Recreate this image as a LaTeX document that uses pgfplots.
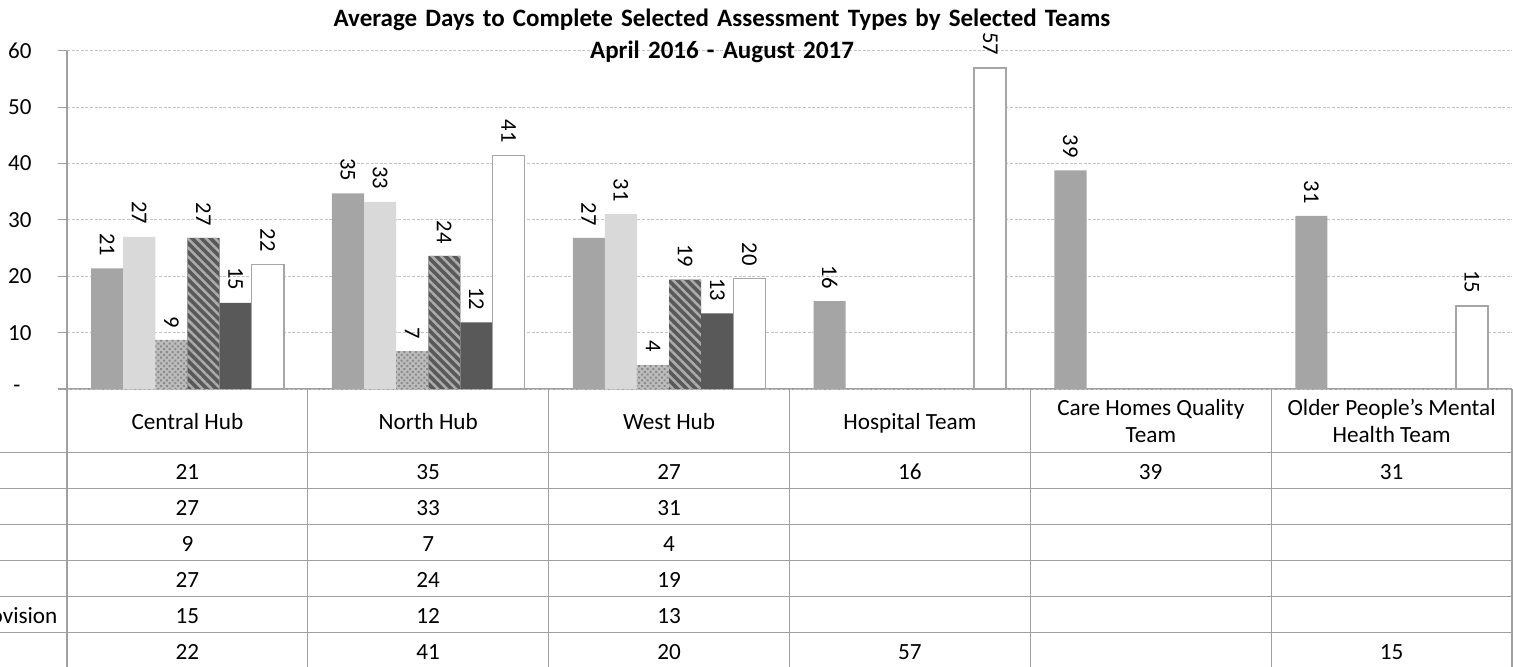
\documentclass[border=0pt]{standalone}
\usepackage{fontspec}
\setmainfont{Carlito}
\usepackage{pgfplots}
\pgfplotsset{compat=1.18}
\usetikzlibrary{patterns,patterns.meta}
\definecolor{cA}{HTML}{A5A5A5}
\definecolor{cB}{HTML}{D9D9D9}
\definecolor{cC}{HTML}{BCBCBC}
\definecolor{cCd}{HTML}{8A8A8A}
\definecolor{cD}{HTML}{595959}
\definecolor{cDs}{HTML}{ABABAB}
\definecolor{cE}{HTML}{595959}
\definecolor{cF}{HTML}{A6A6A6}
\definecolor{gridc}{HTML}{C4C4C4}
\definecolor{linec}{HTML}{A0A0A0}
\begin{document}
\begin{tikzpicture}
\useasboundingbox (0pt,0pt) rectangle (756.5pt,-333pt);
\begin{axis}[
  at={(33.5pt,-194.5pt)}, anchor=south west,
  scale only axis, width=722.5pt, height=169.15pt,
  xmin=-0.5, xmax=5.5, ymin=0, ymax=60,
  axis x line*=bottom, axis y line*=left,
  axis line style={draw=linec, line width=0.6pt},
  xtick=\empty,
  ytick={10,20,30,40,50,60},
  extra y ticks={0},
  extra y tick labels={-},
  extra y tick style={yticklabel style={xshift=-5.5pt}},
  yticklabel style={font=\fontsize{11.5}{13}\selectfont, text=black},
  yticklabel shift=9.7pt,
  /pgf/number format/assume math mode=true,
  ymajorgrids, grid style={draw=gridc, dash pattern=on 1.5pt off 0.8pt, line width=0.5pt},
  major tick style={draw=linec, line width=0.6pt}, tick align=outside, major tick length=4.5pt,
  clip=false,
  ybar=0pt, bar width=0.13333,
  nodes near coords={\pgfmathprintnumber[fixed,precision=0]{\pgfplotspointmeta}},
  every node near coord/.append style={rotate=-90, anchor=east, inner xsep=6pt,
      font=\fontsize{11.3}{13}\selectfont, text=black},
]
\addplot[fill=cA, draw=none]
  coordinates {(0,21.4) (1,34.7) (2,26.8) (3,15.6) (4,38.8) (5,30.7)};
\addplot[fill=cB, draw=none]
  coordinates {(0,27.0) (1,33.2) (2,31.0)};
\addplot[fill=cC, draw=none,
  postaction={pattern={Dots[angle=45,distance=2pt,radius=0.7pt]}, pattern color=cCd}]
  coordinates {(0,8.7) (1,6.7) (2,4.3)};
\addplot[fill=cD, draw=none,
  postaction={pattern={Lines[angle=-45,distance=3.2pt,line width=1.25pt]}, pattern color=cDs}]
  coordinates {(0,26.8) (1,23.6) (2,19.4)};
\addplot[fill=cE, draw=none]
  coordinates {(0,15.3) (1,11.8) (2,13.4)};
\addplot[fill=white, draw=cF, line width=0.8pt]
  coordinates {(0,22.1) (1,41.4) (2,19.6) (3,56.9) (5,14.7)};
\end{axis}
% title
\node[anchor=base, font=\bfseries\fontsize{12.5}{14}\selectfont] at (361pt,-13.35pt)
  {\spaceskip=4.1pt\relax Average Days to Complete Selected Assessment Types by Selected Teams};
\node[anchor=base, font=\bfseries\fontsize{12.5}{14}\selectfont] at (361pt,-29.15pt)
  {\spaceskip=4.1pt\relax April 2016 - August 2017};
% data table
\begin{scope}[x=0.5pt, y=-0.5pt, draw=linec, line width=0.6pt]
  \foreach \yy in {452.7,488.7,524.7,560.7,596.7,632.7}
    \draw (0,\yy) -- (1512,\yy);
  \foreach \xx in {67,307.8,548.7,789.5,1030.3,1271.2,1512}
    \draw (\xx,389) -- (\xx,680);
  \begin{scope}[every node/.style={anchor=base, font=\fontsize{11.6}{13}\selectfont, inner sep=0pt}]
    % headers
    \node at (187.4,429.3) {Central Hub};
    \node at (428.2,429.3) {North Hub};
    \node at (669.1,429.3) {West Hub};
    \node at (909.9,429.3) {Hospital Team};
    \node at (1150.8,415) {Care Homes Quality};
    \node at (1150.8,442.7) {Team};
    \node at (1391.6,415) {Older People's Mental};
    \node at (1391.6,442.7) {Health Team};
    % row label (cut off at the left in the original)
    \node[anchor=base east] at (58,623.3) {ovision};
    % values
    \foreach \v [count=\i from 0] in {21,35,27,16,39,31}
      \node at (187.4+240.83*\i,479.3) {\v};
    \foreach \v [count=\i from 0] in {27,33,31}
      \node at (187.4+240.83*\i,515.3) {\v};
    \foreach \v [count=\i from 0] in {9,7,4}
      \node at (187.4+240.83*\i,551.3) {\v};
    \foreach \v [count=\i from 0] in {27,24,19}
      \node at (187.4+240.83*\i,587.3) {\v};
    \foreach \v [count=\i from 0] in {15,12,13}
      \node at (187.4+240.83*\i,623.3) {\v};
    \foreach \v [count=\i from 0] in {22,41,20,57}
      \node at (187.4+240.83*\i,659.3) {\v};
    \node at (1391.6,659.3) {15};
  \end{scope}
\end{scope}
\end{tikzpicture}
\end{document}
